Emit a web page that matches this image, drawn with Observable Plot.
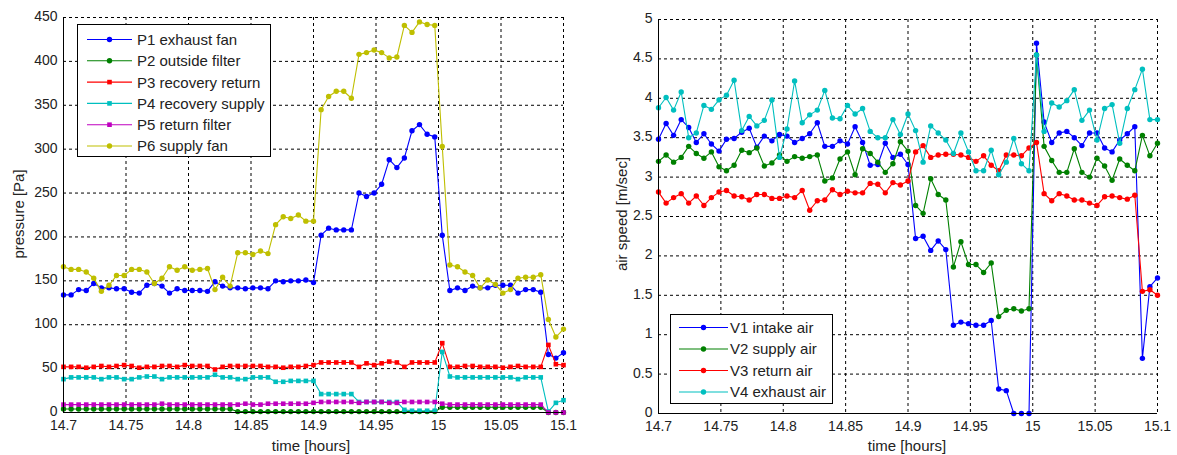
<!DOCTYPE html>
<html><head><meta charset="utf-8">
<script src="https://cdn.jsdelivr.net/npm/d3@7"></script>
<script src="https://cdn.jsdelivr.net/npm/@observablehq/plot@0.6"></script>
<style>
body{margin:0;background:#fff;}
#wrap{position:relative;width:1177px;height:455px;font-family:Arial,"Liberation Sans",sans-serif;overflow:hidden;}
.panel{position:absolute;top:0;}
.lbl{position:absolute;font-size:15px;color:#222;white-space:nowrap;transform:translate(-50%,-50%);}
.rot{transform:translate(-50%,-50%) rotate(-90deg);}
</style></head><body><div id="wrap"></div>
<script>
// ---- data ----
const time = [14.7000,14.7061,14.7121,14.7182,14.7242,14.7303,14.7364,14.7424,14.7485,14.7545,14.7606,14.7667,14.7727,14.7788,14.7848,14.7909,14.7970,14.8030,14.8091,14.8152,14.8212,14.8273,14.8333,14.8394,14.8455,14.8515,14.8576,14.8636,14.8697,14.8758,14.8818,14.8879,14.8939,14.9000,14.9061,14.9121,14.9182,14.9242,14.9303,14.9364,14.9424,14.9485,14.9545,14.9606,14.9667,14.9727,14.9788,14.9848,14.9909,14.9970,15.0030,15.0091,15.0152,15.0212,15.0273,15.0333,15.0394,15.0455,15.0515,15.0576,15.0636,15.0697,15.0758,15.0818,15.0879,15.0939,15.1000];

const p1 = [134,134,140,139,147,142,142,141,141,137,136,145,147,144,136,141,139,139,139,138,149,144,142,142,141,142,142,141,150,149,150,150,151,148,202,210,208,208,208,250,246,250,260,288,279,290,321,328,317,314,202,139,142,139,144,142,142,145,145,145,136,140,140,137,66,62,68];
const p2 = [4,4,4,4,4,4,4,4,4,4,4,4,4,4,4,4,4,4,4,4,4,4,4,1,1,1,1,1,1,1,1,1,1,1,1,1,1,1,1,1,1,1,1,1,1,1,1,1,1,1,6,6,6,6,6,6,6,6,6,6,6,6,6,6,0,0,0];
const p3 = [52,52,52,51,52,53,52,53,54,53,51,52,52,53,53,52,54,53,53,53,49,52,53,53,53,53,53,52,52,51,52,52,53,54,57,57,57,57,57,52,56,54,56,58,57,52,57,57,57,57,79,52,52,53,53,52,52,52,51,52,53,52,52,52,77,55,54];
const p4 = [38,40,40,40,40,38,40,40,38,38,40,41,41,38,40,40,40,40,40,40,43,40,40,38,38,40,40,40,35,35,36,36,36,36,21,21,21,21,21,12,12,12,12,12,12,3,2,2,2,2,69,41,40,40,40,40,40,40,40,40,38,40,40,40,1,11,14];
const p5 = [9,9,9,9,9,9,9,9,9,9,9,9,9,10,9,9,9,9,9,9,9,9,9,9,10,9,9,10,10,10,10,10,10,11,12,12,12,12,12,11,12,12,12,11,11,12,12,12,12,12,10,9,9,9,9,9,9,9,9,9,9,9,9,9,0,0,0];
const p6 = [166,163,163,160,153,138,145,156,156,163,163,160,147,153,166,162,166,162,163,164,140,154,144,182,182,180,184,181,214,223,221,225,218,218,345,360,366,366,358,408,410,413,410,404,405,441,433,445,442,441,303,168,166,160,156,142,151,146,136,140,153,154,154,157,106,86,95];

const v1 = [3.48,3.68,3.53,3.73,3.63,3.44,3.55,3.42,3.33,3.48,3.49,3.57,3.62,3.38,3.52,3.46,3.54,3.52,3.44,3.49,3.55,3.69,3.39,3.39,3.46,3.42,3.64,3.44,3.15,3.16,3.43,3.25,3.29,3.16,2.22,2.25,2.07,2.19,2.08,1.12,1.16,1.14,1.12,1.12,1.18,0.31,0.29,0,0,0,4.70,3.70,3.44,3.56,3.58,3.50,3.40,3.56,3.56,3.37,3.32,3.47,3.55,3.64,0.70,1.61,1.72];
const v2 = [3.20,3.28,3.19,3.25,3.39,3.30,3.24,3.32,3.13,3.08,3.15,3.34,3.31,3.37,3.14,3.18,3.28,3.20,3.26,3.24,3.26,3.28,2.95,2.99,3.23,3.32,3.03,3.36,3.30,3.19,3.06,3.17,3.45,3.33,2.64,2.54,2.98,2.78,2.71,1.86,2.18,1.89,1.89,1.79,1.91,1.23,1.31,1.33,1.30,1.33,4.55,3.39,3.21,3.06,3.06,3.36,3.06,3.00,3.24,3.14,2.96,3.23,3.15,3.08,3.53,3.27,3.43];
const v3 = [2.81,2.67,2.74,2.79,2.67,2.76,2.64,2.74,2.81,2.83,2.76,2.75,2.71,2.78,2.78,2.73,2.73,2.76,2.74,2.83,2.58,2.70,2.71,2.84,2.78,2.82,2.80,2.80,2.92,2.91,2.80,2.93,2.90,2.95,3.32,3.40,3.25,3.28,3.29,3.29,3.28,3.25,3.20,3.27,3.15,3.08,3.28,3.28,3.27,3.37,3.44,2.79,2.70,2.79,2.76,2.71,2.71,2.67,2.64,2.75,2.76,2.74,2.72,2.77,1.55,1.57,1.50];
const v4 = [3.88,4.01,3.85,4.08,3.50,3.56,3.91,3.86,3.98,4.04,4.23,3.59,3.77,3.65,3.72,3.98,3.25,3.61,4.22,3.69,3.79,3.85,4.10,3.75,3.74,3.91,3.80,3.87,3.58,3.50,3.50,3.73,3.54,3.80,3.59,3.19,3.65,3.56,3.47,3.30,3.56,3.32,3.08,3.08,3.34,3.03,3.19,3.49,3.17,3.08,4.55,3.58,3.94,3.89,3.97,4.11,3.72,3.85,3.47,3.87,3.92,3.43,3.87,4.11,4.37,3.73,3.73];

const pressureNames = ["P1 exhaust fan","P2 outside filter","P3 recovery return","P4 recovery supply","P5 return filter","P6 supply fan"];
const speedNames = ["V1 intake air","V2 supply air","V3 return air","V4 exhaust air"];

const xTicks = [14.7,14.75,14.8,14.85,14.9,14.95,15,15.05,15.1];
const xTickLabels = ["14.7","14.75","14.8","14.85","14.9","14.95","15","15.05","15.1"];
const pTicks = [0,50,100,150,200,250,300,350,400,450];
const pTickLabels = ["0","50","100","150","200","250","300","350","400","450"];
const vTicks = [0,0.5,1,1.5,2,2.5,3,3.5,4,4.5,5];
const vTickLabels = ["0","0.5","1","1.5","2","2.5","3","3.5","4","4.5","5"];

const pressureColors = ["#0000ff","#008000","#ff0000","#00bfbf","#bf00bf","#bfbf00"];
const pressureSymbols = ["circle","circle","square","square","square","circle"];
const speedColors = ["#0000ff","#008000","#ff0000","#00bfbf"];
const speedSymbols = ["circle","circle","circle","circle"];

// ---- drawing ----
const wrap = document.getElementById("wrap");

function lookup(ticks, labels) {
  return d => { const i = ticks.findIndex(t => Math.abs(t - d) < 1e-9); return i >= 0 ? labels[i] : ""; };
}

function panel(o) {
  const marks = [
    Plot.gridX(xTicks, {stroke: "#000", strokeOpacity: 1, strokeWidth: 1, strokeDasharray: "3,3"}),
    Plot.gridY(o.yTicks, {stroke: "#000", strokeOpacity: 1, strokeWidth: 1, strokeDasharray: "3,3"}),
    Plot.axisX(xTicks, {tickSize: 0, tickPadding: 8, tickFormat: lookup(xTicks, xTickLabels), label: null, fill: "#222"}),
    Plot.axisY(o.yTicks, {tickSize: 0, tickPadding: 6, tickFormat: lookup(o.yTicks, o.yTickLabels), label: null, fill: "#222", dy: -1})
  ];
  o.series.forEach((vals, k) => {
    const rows = time.map((t, i) => ({t, v: vals[i], s: o.names[k]}));
    marks.push(Plot.line(rows, {x: "t", y: "v", stroke: o.colors[k], strokeWidth: 1.1}));
    marks.push(Plot.dot(rows, {x: "t", y: "v", fill: o.colors[k], stroke: "none", r: o.symbols[k] === "square" ? 2.6 : 2.7, symbol: o.symbols[k]}));
  });
  marks.push(Plot.ruleY([o.yDomain[0]], {stroke: "#000", strokeWidth: 1}));
  marks.push(Plot.ruleX([xTicks[0]], {stroke: "#000", strokeWidth: 1}));
  const svg = Plot.plot({
    width: o.width, height: 455,
    marginLeft: o.mL, marginRight: o.mR, marginTop: o.mT, marginBottom: o.mB,
    x: {type: "linear", domain: [xTicks[0], xTicks[xTicks.length - 1]]},
    y: {type: "linear", domain: o.yDomain},
    style: {fontSize: "14px", fontFamily: "Arial, 'Liberation Sans', sans-serif", background: "transparent", overflow: "visible", color: "#222"},
    marks
  });
  const div = document.createElement("div");
  div.className = "panel";
  div.style.left = o.left + "px";
  div.appendChild(svg);
  wrap.appendChild(div);
}

panel({left: 0, width: 590, mL: 63, mR: 27, mT: 17, mB: 43, yDomain: [0, 450], yTicks: pTicks, yTickLabels: pTickLabels,
  series: [p1, p2, p3, p4, p5, p6], names: pressureNames, colors: pressureColors, symbols: pressureSymbols});
panel({left: 590, width: 587, mL: 68, mR: 20, mT: 19, mB: 42, yDomain: [0, 5], yTicks: vTicks, yTickLabels: vTickLabels,
  series: [v1, v2, v3, v4], names: speedNames, colors: speedColors, symbols: speedSymbols});

function label(text, x, y, rot) {
  const d = document.createElement("div");
  d.className = "lbl" + (rot ? " rot" : "");
  d.style.left = x + "px"; d.style.top = y + "px";
  d.textContent = text;
  wrap.appendChild(d);
}
label("pressure [Pa]", 18, 214, true);
label("time [hours]", 311, 445, false);
label("air speed [m/sec]", 621, 214, true);
label("time [hours]", 907, 445, false);

function legend(o) {
  const svg = d3.create("svg").attr("width", o.w).attr("height", o.h)
    .style("position", "absolute").style("left", o.x + "px").style("top", o.y + "px")
    .style("font-family", "Arial, 'Liberation Sans', sans-serif").style("font-size", "15px");
  svg.append("rect").attr("x", 0.5).attr("y", 0.5).attr("width", o.w - 1).attr("height", o.h - 1)
    .attr("fill", "#fff").attr("stroke", "#000");
  o.names.forEach((n, k) => {
    const y = o.row0 + k * o.step;
    svg.append("line").attr("x1", o.l0).attr("x2", o.l1).attr("y1", y).attr("y2", y)
      .attr("stroke", o.colors[k]).attr("stroke-width", 1.1);
    const mx = (o.l0 + o.l1) / 2;
    if (o.symbols[k] === "square") svg.append("rect").attr("x", mx - 2.3).attr("y", y - 2.3).attr("width", 4.6).attr("height", 4.6).attr("fill", o.colors[k]);
    else svg.append("circle").attr("cx", mx).attr("cy", y).attr("r", 2.7).attr("fill", o.colors[k]);
    svg.append("text").attr("x", o.tx).attr("y", y).attr("dy", "0.36em").attr("fill", "#222").text(n);
  });
  wrap.appendChild(svg.node());
}
legend({x: 77, y: 24, w: 194, h: 133, row0: 15.5, step: 21.3, l0: 10, l1: 55, tx: 60,
  names: pressureNames, colors: pressureColors, symbols: pressureSymbols});
legend({x: 670, y: 314, w: 163, h: 90, row0: 13.5, step: 21.5, l0: 9, l1: 58, tx: 60,
  names: speedNames, colors: speedColors, symbols: speedSymbols});
</script>
</body></html>
